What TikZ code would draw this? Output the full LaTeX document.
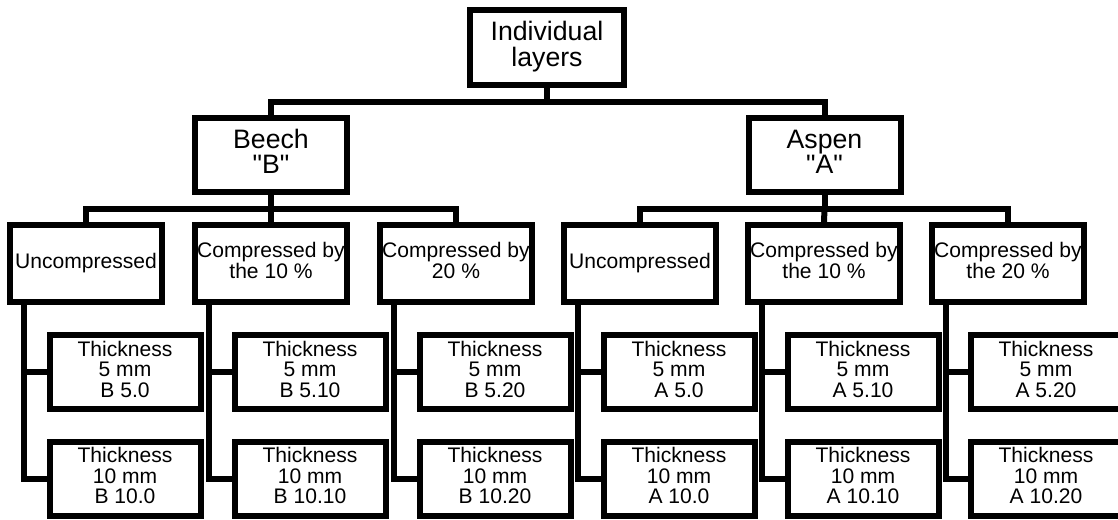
\documentclass[tikz,border=0pt]{standalone}
\usepackage{fontspec}
\setmainfont{Liberation Sans}[Ligatures=TeXOff]
\usetikzlibrary{calc}
\newcommand{\tx}[2][2pt]{\raisebox{#1}{\begin{tabular}{@{}c@{}}#2\end{tabular}}}
\begin{document}
\begin{tikzpicture}[x=0.75pt,y=-0.75pt,
 box/.style={draw=black,line width=4.5pt,fill=white,inner sep=0pt,align=center},
 big/.style={box,font=\fontsize{20}{17.25}\selectfont,minimum width=114pt,minimum height=55.5pt},
 mid/.style={box,font=\fontsize{15.8}{14.6}\selectfont,minimum width=114pt,minimum height=57.75pt},
 leaf/.style={box,font=\fontsize{15.8}{14.4}\selectfont,minimum width=113.25pt,minimum height=55.5pt},
 conn/.style={line width=4.5pt,line join=miter}]
\useasboundingbox (0,0) rectangle (1118,519);
\clip (0,0) rectangle (1118,519);
% top
\node[big,minimum width=115.5pt,minimum height=56.25pt] (top) at (547,47.5) {\tx[1pt]{Individual\\layers}};
\node[big] (beech) at (271,155) {\tx[1pt]{Beech\\"B"}};
\node[big] (aspen) at (824.5,155) {\tx[1pt]{Aspen\\"A"}};
% level 3
\node[mid] (c1) at (86,263.5) {Uncompressed};
\node[mid] (c2) at (271,263.5) {\tx[4pt]{Compressed by\\the 10 \%}};
\node[mid] (c3) at (456,263.5) {\tx[4pt]{Compressed by\\20 \%}};
\node[mid] (c4) at (640,263.5) {Uncompressed};
\node[mid] (c5) at (824,263.5) {\tx[4pt]{Compressed by\\the 10 \%}};
\node[mid] (c6) at (1008,263.5) {\tx[4pt]{Compressed by\\the 20 \%}};
% leaves
\foreach \i/\x/\l/\s in {1/125/B/0,2/310/B/10,3/495/B/20,4/679/A/0,5/863/A/10,6/1046/A/20}{
  \node[leaf] (l\i a) at (\x,372) {\tx{Thickness\\5 mm\\\l{} 5.\s}};
  \node[leaf] (l\i b) at (\x,478.5) {\tx{Thickness\\10 mm\\\l{} 10.\s}};
  \coordinate (s\i) at ($(c\i.south west)+(16.5,0)$);
  \draw[conn] (s\i) |- (l\i b.west);
  \draw[conn] (s\i |- l\i a.west) -- (l\i a.west);
}
% connectors
\coordinate (b1) at (547,102);
\draw[conn] (top.south) -- (b1);
\draw[conn] (beech.north) |- (b1) -| (aspen.north);
\coordinate (b2) at (271,209);
\draw[conn] (beech.south) -- (b2);
\draw[conn] (c1.north) |- (b2) -| (c3.north);
\draw[conn] (c2.north) -- (b2);
\coordinate (b3) at (824.5,209);
\draw[conn] (aspen.south) -- (b3);
\draw[conn] (c4.north) |- (b3) -| (c6.north);
\draw[conn] (c5.north) -- (b3);
\end{tikzpicture}
\end{document}
